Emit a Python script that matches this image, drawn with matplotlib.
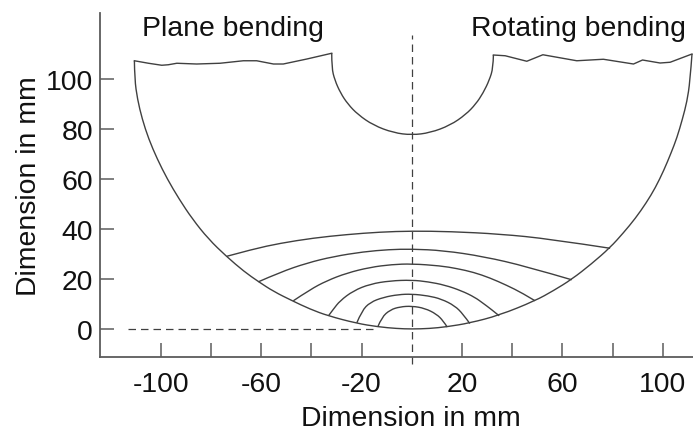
import matplotlib
matplotlib.use("Agg")
import matplotlib.pyplot as plt
from matplotlib.patches import PathPatch
from matplotlib.path import Path

plt.rcParams['font.family'] = ['Liberation Sans', 'DejaVu Sans']

# values, in mm
top_left_x = [-110.5, -104.9, -99.6, -97.0, -93.6, -85.7, -76.4, -67.1, -61.8, -55.1, -51.2, -41.8, -31.9]
top_left_y = [107.3, 106.3, 105.5, 105.7, 106.3, 106.0, 106.3, 107.3, 107.3, 106.0, 106.0, 108.0, 110.3]
top_right_x = [32.5, 37.2, 45.8, 52.2, 65.7, 76.3, 88.3, 91.9, 98.9, 102.9, 111.6]
top_right_y = [109.6, 109.3, 107.1, 109.7, 107.3, 107.9, 106.0, 107.6, 106.4, 106.7, 110.0]

notch_x = [-31.9, -31.9, -30.7, -28.4, -25.5, -21.5, -15.3, -7.3, 0, 7.3, 15.3, 21.5, 25.5, 28.4, 30.9, 32.4, 32.5]
notch_y = [110.3, 104.5, 99.6, 94.4, 90.0, 85.8, 81.5, 78.5, 77.6, 78.5, 81.5, 85.8, 90.0, 94.4, 99.6, 104.5, 109.6]

outer_x = [-110.5, -110.4, -109.3, -107.4, -104.8, -101.4, -97.4, -92.7, -87.4, -81.0, -73.9, -66.8, -61.0,
           -55.0, -47.6, -40.6, -33.4, -22.0, -13.5, -6.0, 0,
           7.0, 13.9, 23.0, 34.8, 49.1, 56.5, 63.7, 71.5, 79.0, 84.3, 89.0, 93.4, 97.0, 100.4, 103.3, 105.6,
           107.8, 109.6, 110.8, 111.6]
outer_y = [107.3, 100.0, 92.0, 84.0, 76.0, 68.0, 60.0, 52.0, 44.0, 36.0, 29.1, 23.0, 18.9,
           15.0, 11.3, 8.0, 5.3, 2.3, 0.9, 0.2, 0,
           0.2, 0.9, 2.4, 5.5, 11.3, 15.4, 19.9, 26.0, 32.6, 38.5, 44.2, 50.5, 56.5, 63.5, 70.5, 76.5,
           84.0, 91.0, 99.0, 110.0]

front1_x = [-73.7, -63.1, -52.5, -39.2, -25.9, -12.6, 0, 15.3, 35.2, 55.1, 79.0]
front1_y = [29.1, 32.0, 34.3, 36.4, 37.8, 38.8, 39.2, 39.0, 38.0, 36.0, 32.3]
front2_x = [-61.1, -52.5, -41.8, -31.2, -19.3, -9.0, 0, 12.6, 28.6, 45.8, 63.7]
front2_y = [18.9, 22.7, 26.4, 29.0, 30.9, 31.8, 32.0, 31.4, 29.0, 25.0, 19.7]
front3_x = [-47.2, -40.5, -33.9, -25.9, -16.6, -8.0, 0, 11.3, 18.0, 24.6, 31.0, 37.8, 44.0, 49.1]
front3_y = [11.3, 15.8, 19.3, 22.4, 24.7, 25.8, 26.1, 25.3, 24.2, 22.7, 20.5, 17.5, 14.4, 11.3]
front4_x = [-33.2, -31.2, -28.6, -23.3, -16.6, -8.6, 0, 6.5, 13.1, 19.8, 25.1, 28.4, 31.5, 34.8]
front4_y = [5.3, 8.0, 11.3, 15.3, 18.0, 19.3, 19.6, 18.9, 17.6, 15.3, 12.7, 10.3, 8.0, 5.3]
front5_x = [-21.9, -19.9, -16.6, -11.3, -5.3, 0, 6.5, 11.8, 17.1, 20.4, 23.1]
front5_y = [2.5, 7.3, 10.7, 12.7, 13.8, 14.0, 13.3, 12.0, 9.3, 6.0, 2.2]
front6_x = [-13.5, -12.0, -8.6, -4.7, 0, 5.2, 9.8, 12.5, 14.1]
front6_y = [1.0, 4.7, 7.7, 8.9, 9.2, 8.3, 6.0, 3.3, 0.8]

xtick_pos = [-100, -80, -60, -40, -20, 20, 40, 60, 80, 100]
xtick_labels = ['-100', '', '-60', '', '-20', '20', '', '60', '', '100']
ytick_pos = [0, 20, 40, 60, 80, 100]

line_col = '#404040'
text_col = '#111111'
axis_col = '#5c5c5c'


# smooth curve through the read points, quadratic segments between midpoints
def smooth(ax, xs, ys):
    pts = list(zip(xs, ys))
    verts = [pts[0]]
    codes = [Path.MOVETO]
    for i in range(1, len(pts) - 1):
        end = pts[i + 1]
        if i < len(pts) - 2:
            end = ((pts[i][0] + pts[i + 1][0]) / 2, (pts[i][1] + pts[i + 1][1]) / 2)
        verts += [pts[i], end]
        codes += [Path.CURVE3, Path.CURVE3]
    ax.add_patch(PathPatch(Path(verts, codes), fill=False, ec=line_col, lw=1.0))


fig = plt.figure(figsize=(6.93, 4.31), dpi=100)
ax = fig.add_axes([100 / 693, 1 - 358.3 / 431, (693 - 100) / 693, (358.3 - 14) / 431])
ax.set_xlim(-124.2, 112)
ax.set_ylim(-11.3, 126.4)

ax.plot(top_left_x, top_left_y, color=line_col, lw=1.0)
ax.plot(top_right_x, top_right_y, color=line_col, lw=1.0)
smooth(ax, notch_x, notch_y)
smooth(ax, outer_x, outer_y)
for fx, fy in [(front1_x, front1_y), (front2_x, front2_y), (front3_x, front3_y),
               (front4_x, front4_y), (front5_x, front5_y), (front6_x, front6_y)]:
    smooth(ax, fx, fy)

# centre line runs past the axis
ax.plot([0, 0], [-14, 117.6], color=line_col, lw=0.9, ls=(0, (6, 4)), clip_on=False)
ax.plot([-113, -15], [0, 0], color=line_col, lw=0.9, ls=(0, (6, 4)))

for s in ['top', 'right']:
    ax.spines[s].set_visible(False)
for s in ['left', 'bottom']:
    ax.spines[s].set_color(axis_col)
    ax.spines[s].set_linewidth(1.3)

ax.set_xticks(xtick_pos, xtick_labels)
ax.set_yticks(ytick_pos)
ax.tick_params(axis='both', direction='in', length=10, width=1.1, color=axis_col,
               labelsize=20.4, labelcolor=text_col)
ax.tick_params(axis='x', pad=10)
ax.tick_params(axis='y', pad=5)
ax.set_xlabel('Dimension in mm', fontsize=20.4, color=text_col)
ax.xaxis.set_label_coords((411 - 100) / 593, -0.1385)
ax.set_ylabel('Dimension in mm', fontsize=20.4, color=text_col)
ax.yaxis.set_label_coords(-0.098, 0.5)

fig.text(142 / 693, 1 - 36 / 431, 'Plane bending', fontsize=20.4, color=text_col, va='baseline')
fig.text(471 / 693, 1 - 36 / 431, 'Rotating bending', fontsize=20.4, color=text_col, va='baseline')

fig.savefig('out.png', dpi=100)
